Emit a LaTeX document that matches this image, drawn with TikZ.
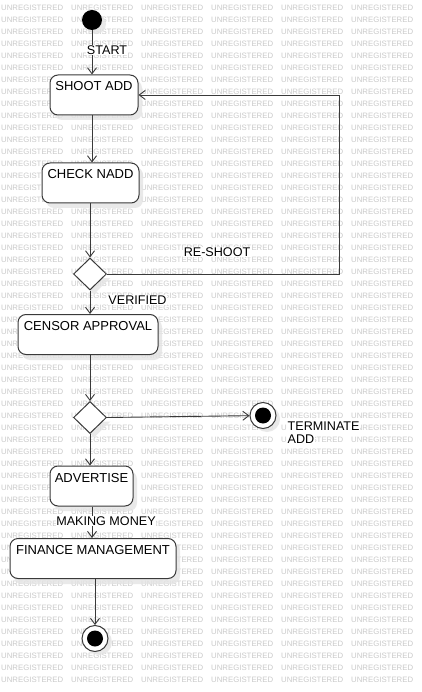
\documentclass[tikz,border=0pt]{standalone}
\usepackage{fontspec}
\setmainfont{Liberation Sans}
\newfontfamily\wmfont{Liberation Sans}
\usetikzlibrary{arrows.meta,shapes.geometric}
\definecolor{ln}{HTML}{3A3A3A}
\definecolor{wmc}{HTML}{CACACA}
\definecolor{shd}{HTML}{E4E4E4}
\newif\ifwmshow
\def\skiplist{,6,7,8,14,15,26,27,28,39,40,41,45,46,47,}
\makeatletter
\newcommand\wmtest[2]{\wmshowtrue\ifnum#1=1 \@expandtwoargs\in@{,#2,}{\skiplist}\ifin@\wmshowfalse\fi\fi}
\makeatother
\newcommand\wbox[1]{{\setlength{\fboxsep}{0.5pt}\colorbox{white}{#1}}}
\tikzset{
  wm/.style={font=\wmfont\fontsize{7.8}{8}\selectfont, text=wmc, inner sep=0pt, anchor=west},
  statebox/.style={draw=ln, line width=1pt, fill=white, rounded corners=8pt, inner sep=0pt,
    text height=16pt, text depth=24pt, font=\fontsize{13}{15}\selectfont},
  decision/.style={diamond, draw=ln, line width=1pt, fill=white, inner sep=0pt,
    minimum width=33pt, minimum height=32pt},
  arr/.style={draw=ln, line width=0.9pt, -{Straight Barb[length=6pt,width=9pt]}},
  lbl/.style={font=\fontsize{12.6}{14}\selectfont, fill=white, inner sep=0.5pt},
  shadowbox/.style={fill=shd, opacity=0.8, rounded corners=8pt},
}
\begin{document}
\begin{tikzpicture}[x=1pt,y=-1pt]
\useasboundingbox (0,0) rectangle (422,692);
\fill[white] (0,0) rectangle (422,692);
% watermark
\foreach \i in {0,...,5}{
  \foreach \j in {0,...,56}{
    \wmtest{\i}{\j}
    \ifwmshow
      \node[wm] (wm-\i-\j) at (1+70*\i, 8+12*\j) {UNREGISTERED};
    \fi
  }
}
% shadows
\fill[shadowbox] (54,80) rectangle (142,120);
\fill[shadowbox] (46,167) rectangle (143,208);
\fill[shadowbox] (22,319) rectangle (162,360);
\fill[shadowbox] (54,471) rectangle (137,511);
\fill[shadowbox] (14,543) rectangle (180,584);
\fill[shd, opacity=0.8] (96,24) circle (10);
\fill[shd, opacity=0.8] (267,419) circle (13);
\fill[shd, opacity=0.8] (99,642) circle (13);
\fill[shd, opacity=0.8] (94,278) -- ++(16.5,0) -- ++(-16.5,16) -- ++(-16.5,-16) -- ++(16.5,-16) -- cycle;
\fill[shd, opacity=0.8] (94,421.5) -- ++(16.5,0) -- ++(-16.5,16) -- ++(-16.5,-16) -- ++(16.5,-16) -- cycle;
% nodes
\node[circle, fill=black, inner sep=0pt, minimum size=20pt] (start) at (92,20) {};
\node[statebox, minimum width=88pt] (shoot) at (94,95) {SHOOT ADD};
\node[statebox, minimum width=97pt] (check) at (90.5,183) {CHECK NADD};
\node[decision] (d1) at (90,274) {};
\node[statebox, minimum width=140pt] (censor) at (88,334.5) {CENSOR APPROVAL};
\node[decision] (d2) at (90,417.5) {};
\node[circle, draw=ln, line width=1pt, fill=white, inner sep=0pt, minimum size=26pt] (f1) at (263,415.5) {};
\fill[black] (f1.center) circle (8);
\node[statebox, minimum width=83pt] (adv) at (91.5,486) {ADVERTISE};
\node[statebox, minimum width=166pt] (fin) at (93,558.5) {FINANCE MANAGEMENT};
\node[circle, draw=ln, line width=1pt, fill=white, inner sep=0pt, minimum size=26pt] (f2) at (95,638.5) {};
\fill[black] (f2.center) circle (8);
% connectors
\draw[arr] (start) -- (start |- shoot.north);
\draw[arr] (shoot.south -| start) -- (check.north -| start);
\draw[arr] (check.south -| d1) -- (d1.north);
\draw[arr] (d1.south) -- (censor.north -| d1);
\draw[arr] (censor.south -| d2) -- (d2.north);
\draw[arr] (d2.east) -- (f1);
\draw[arr] (d2.south) -- (adv.north -| d2);
\coordinate (c1) at (92,506);
\draw[arr] (adv.south -| c1) -- (fin.north -| c1);
\draw[arr] (fin.south -| f2) -- (f2.north);
\coordinate (r1) at (339,274);
\coordinate (r2) at (339,95);
\draw[arr] (d1.east) -- (r1) -- (r2) -- (shoot.east |- r2);
% labels
\node[lbl] (lstart) at (107,50) {START};
\node[lbl] (lre) at (217,252) {RE-SHOOT};
\node[lbl] (lver) at (137.5,300) {VERIFIED};
\node[lbl, align=left, anchor=north west, fill=none, inner sep=0pt, font=\fontsize{12.6}{13}\selectfont] (lterm) at (287,421) {\wbox{TERMINATE}\\\wbox{ADD}};
\node[lbl] (lmoney) at (106,521) {MAKING MONEY};
\end{tikzpicture}
\end{document}
